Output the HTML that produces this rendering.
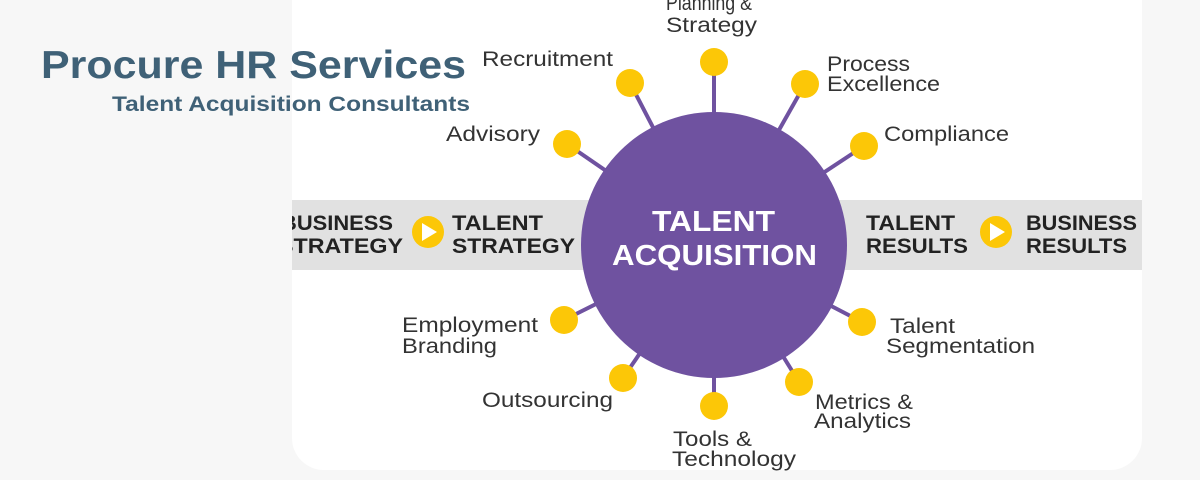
<!DOCTYPE html>
<html><head><style>
html,body{margin:0;padding:0;width:1200px;height:480px;overflow:hidden;background:#f7f7f7;}
svg{position:absolute;left:0;top:0;}
</style></head><body>
<svg width="1200" height="480" viewBox="0 0 1200 480" xmlns="http://www.w3.org/2000/svg">
<defs><clipPath id="c"><rect x="292" y="0" width="850" height="480"/></clipPath></defs>
<rect x="292" y="-30" width="850" height="500" rx="32" fill="#ffffff"/>
<rect x="292" y="200" width="850" height="70" fill="#e1e1e1"/>
<g stroke="#6f52a0" stroke-width="4">
<line x1="714" y1="245" x2="714" y2="62"/>
<line x1="714" y1="245" x2="805" y2="84"/>
<line x1="714" y1="245" x2="864" y2="146"/>
<line x1="714" y1="245" x2="862" y2="322"/>
<line x1="714" y1="245" x2="799" y2="382"/>
<line x1="714" y1="245" x2="714" y2="406"/>
<line x1="714" y1="245" x2="623" y2="378"/>
<line x1="714" y1="245" x2="564" y2="320"/>
<line x1="714" y1="245" x2="567" y2="144"/>
<line x1="714" y1="245" x2="630" y2="83"/>
</g>
<circle cx="714" cy="245" r="133" fill="#6f52a0"/>
<g fill="#fcc707">
<circle cx="714" cy="62" r="14"/><circle cx="805" cy="84" r="14"/><circle cx="864" cy="146" r="14"/>
<circle cx="862" cy="322" r="14"/><circle cx="799" cy="382" r="14"/><circle cx="714" cy="406" r="14"/>
<circle cx="623" cy="378" r="14"/><circle cx="564" cy="320" r="14"/><circle cx="567" cy="144" r="14"/>
<circle cx="630" cy="83" r="14"/>
<circle cx="428" cy="232" r="16"/><circle cx="996" cy="232" r="16"/>
</g>
<g fill="#ffffff"><polygon points="422,223 422,241 437,232"/><polygon points="990,223 990,241 1005,232"/></g>
<g font-family="Liberation Sans, sans-serif" font-weight="900" fill="#222" font-size="21">
<g clip-path="url(#c)">
<text x="281" y="230" textLength="112" lengthAdjust="spacingAndGlyphs">BUSINESS</text><text x="278" y="253" textLength="125" lengthAdjust="spacingAndGlyphs">STRATEGY</text>
</g>
<text x="452" y="230" textLength="91" lengthAdjust="spacingAndGlyphs">TALENT</text><text x="452" y="253" textLength="123" lengthAdjust="spacingAndGlyphs">STRATEGY</text>
<text x="866" y="230" textLength="89" lengthAdjust="spacingAndGlyphs">TALENT</text><text x="866" y="253" textLength="102" lengthAdjust="spacingAndGlyphs">RESULTS</text>
<text x="1026" y="230" textLength="111" lengthAdjust="spacingAndGlyphs">BUSINESS</text><text x="1026" y="253" textLength="101" lengthAdjust="spacingAndGlyphs">RESULTS</text>
</g>
<g font-family="Liberation Sans, sans-serif" font-weight="900" fill="#fff" font-size="29">
<text x="652" y="231" textLength="123" lengthAdjust="spacingAndGlyphs">TALENT</text><text x="612" y="265" textLength="205" lengthAdjust="spacingAndGlyphs">ACQUISITION</text>
</g>
<g font-family="Liberation Sans, sans-serif" fill="#333" font-size="21">
<text x="666" y="10" textLength="86" lengthAdjust="spacingAndGlyphs">Planning &amp;</text><text x="666" y="32" textLength="91" lengthAdjust="spacingAndGlyphs">Strategy</text>
<text x="482" y="66" textLength="131" lengthAdjust="spacingAndGlyphs">Recruitment</text>
<text x="827" y="71" textLength="83" lengthAdjust="spacingAndGlyphs">Process</text><text x="827" y="91" textLength="113" lengthAdjust="spacingAndGlyphs">Excellence</text>
<text x="446" y="141" textLength="94" lengthAdjust="spacingAndGlyphs">Advisory</text>
<text x="884" y="141" textLength="125" lengthAdjust="spacingAndGlyphs">Compliance</text>
<text x="402" y="332" textLength="136" lengthAdjust="spacingAndGlyphs">Employment</text><text x="402" y="353" textLength="95" lengthAdjust="spacingAndGlyphs">Branding</text>
<text x="890" y="333" textLength="65" lengthAdjust="spacingAndGlyphs">Talent</text><text x="886" y="353" textLength="149" lengthAdjust="spacingAndGlyphs">Segmentation</text>
<text x="482" y="407" textLength="131" lengthAdjust="spacingAndGlyphs">Outsourcing</text>
<text x="815" y="409" textLength="98" lengthAdjust="spacingAndGlyphs">Metrics &amp;</text><text x="814" y="428" textLength="97" lengthAdjust="spacingAndGlyphs">Analytics</text>
<text x="673" y="446" textLength="79" lengthAdjust="spacingAndGlyphs">Tools &amp;</text><text x="672" y="466" textLength="124" lengthAdjust="spacingAndGlyphs">Technology</text>
</g>
<g font-family="Liberation Sans, sans-serif" font-weight="bold" fill="#3f6177">
<text x="41" y="78" font-size="39" textLength="425" lengthAdjust="spacingAndGlyphs">Procure HR Services</text>
<text x="112" y="111" font-size="21" textLength="358" lengthAdjust="spacingAndGlyphs">Talent Acquisition Consultants</text>
</g>
</svg>
</body></html>
